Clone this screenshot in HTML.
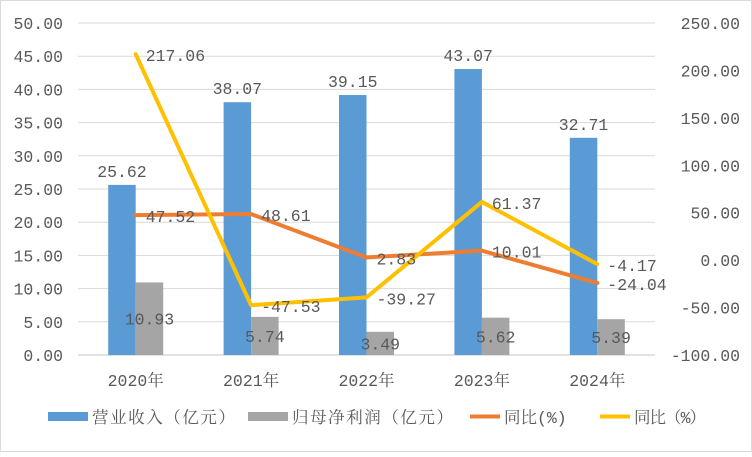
<!DOCTYPE html>
<html><head><meta charset="utf-8"><style>
body{margin:0;background:#fff}
svg text{font-family:"Liberation Mono","Noto Serif CJK SC",monospace;fill:#595959;font-size:16.5px}
</style></head><body>
<svg width="752" height="452">
<rect x="0.5" y="0.5" width="751" height="451" fill="#fff" stroke="#d9d9d9"/>
<g id="grid"></g><g id="bars"></g><g id="lines"></g><g id="labels"></g><g id="axes"></g>
<g id="legend">
<rect x="48" y="412" width="40" height="9" fill="#5B9BD5"/>
<text x="92" y="423" textLength="143">营业收入（亿元）</text>
<rect x="248" y="412" width="40" height="9" fill="#A5A5A5"/>
<text x="292" y="423" textLength="161">归母净利润（亿元）</text>
<line x1="470" y1="416.5" x2="500" y2="416.5" stroke="#ED7D31" stroke-width="4"/>
<text x="504" y="423">同比(%)</text>
<line x1="600" y1="416.5" x2="630" y2="416.5" stroke="#FFC000" stroke-width="4"/>
<text x="634" y="423" textLength="72">同比（%）</text>
</g>
</svg>
<script>
const categories=["2020年","2021年","2022年","2023年","2024年"];
const revenue=[25.62,38.07,39.15,43.07,32.71];
const profit=[10.93,5.74,3.49,5.62,5.39];
const revenueYoy=[47.52,48.61,2.83,10.01,-24.04];
const profitYoy=[217.06,-47.53,-39.27,61.37,-4.17];
const leftTicks=[0,5,10,15,20,25,30,35,40,45,50];
const rightTicks=[-100,-50,0,50,100,150,200,250];
const NS="http://www.w3.org/2000/svg";
const L=78,R=655,T=23,B=355;
const yl=v=>B-(v/50)*(B-T);
const yr=v=>B-((v+100)/350)*(B-T);
const cw=(R-L)/categories.length;
const xc=i=>L+cw*(i+0.5);
function mk(tag,attrs,parent,txt){const e=document.createElementNS(NS,tag);for(const k in attrs)e.setAttribute(k,attrs[k]);if(txt!==undefined)e.textContent=txt;document.getElementById(parent).appendChild(e);return e;}
leftTicks.forEach(t=>{
 const g=mk("line",{x1:L,x2:R,y1:yl(t),y2:yl(t),stroke:"#d9d9d9","stroke-width":1},"grid");
 
 
 const tx=mk("text",{x:63,y:yl(t)+6,"text-anchor":"end"},"axes",t.toFixed(2));
 
 
});
rightTicks.forEach(t=>{
 const tx=mk("text",{x:740,y:yr(t)+6,"text-anchor":"end"},"axes",t.toFixed(2));
 
 
});
const bw=27.5;
categories.forEach((c,i)=>{
 const x=xc(i);
 const b1=mk("rect",{x:x-bw,y:yl(revenue[i]),width:bw,height:B-yl(revenue[i]),fill:"#5B9BD5"},"bars");
 
 
 const b2=mk("rect",{x:x,y:yl(profit[i]),width:bw,height:B-yl(profit[i]),fill:"#A5A5A5"},"bars");
 
 
 const cl=mk("text",{x:x,y:B+31,"text-anchor":"middle"},"axes",c);
 
 
 const l1=mk("text",{x:x-bw/2,y:yl(revenue[i])-8,"text-anchor":"middle"},"labels",revenue[i].toFixed(2));
 
 
 const l2=mk("text",{x:x+bw/2,y:(yl(profit[i])+B)/2+6,"text-anchor":"middle"},"labels",profit[i].toFixed(2));
 
 
});
mk("line",{x1:L,x2:R,y1:B,y2:B,stroke:"#d9d9d9","stroke-width":1.5},"grid");
function series(vals,color,name){
 const p=mk("polyline",{points:vals.map((v,i)=>xc(i)+","+yr(v)).join(" "),fill:"none",stroke:color,"stroke-width":4,"stroke-linejoin":"round","stroke-linecap":"round"},"lines");
 
 
 vals.forEach((v,i)=>{
  const t=mk("text",{x:xc(i)+10,y:yr(v)+7},"labels",v.toFixed(2));
  
  
 });
}
series(revenueYoy,"#ED7D31","revenue-yoy");
series(profitYoy,"#FFC000","profit-yoy");
</script>
</body></html>
